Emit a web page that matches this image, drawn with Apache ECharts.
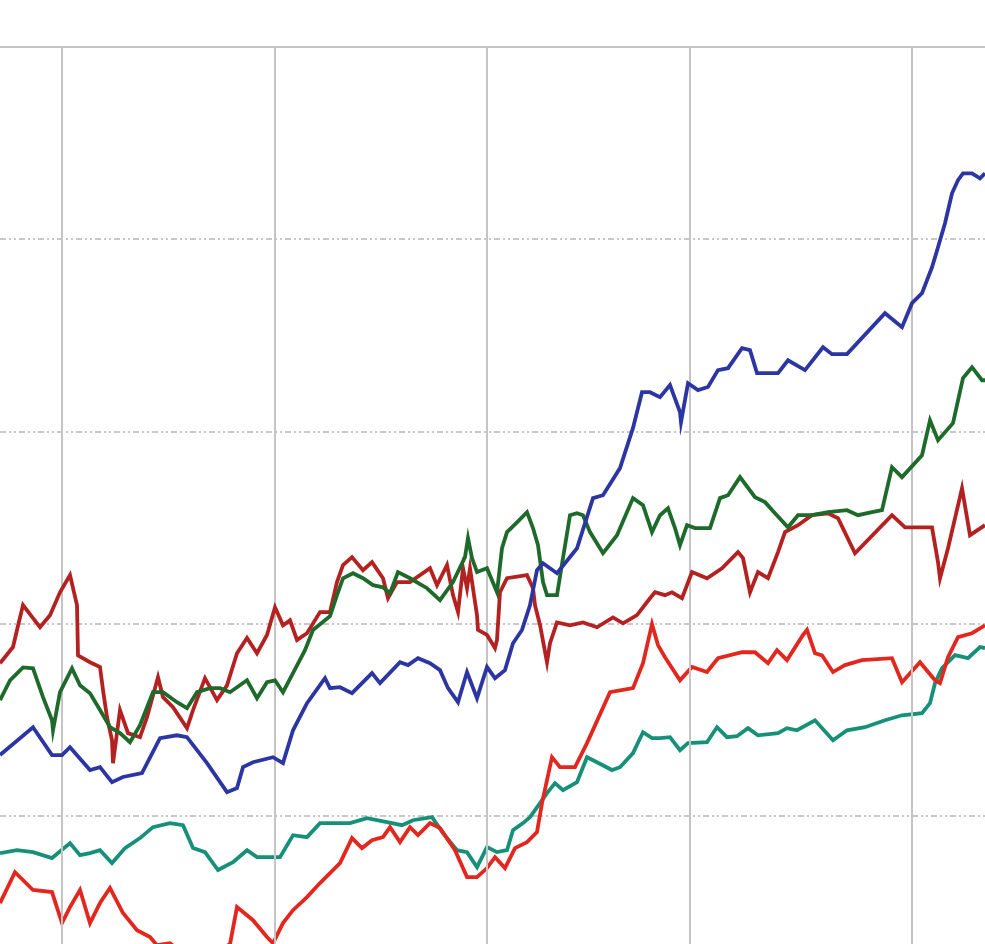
<!DOCTYPE html>
<html>
<head>
<meta charset="utf-8">
<script src="https://cdn.jsdelivr.net/npm/echarts@6/dist/echarts.min.js"></script>
<style>html,body{margin:0;padding:0;background:#fff;overflow:hidden}#c{width:985px;height:1008px}</style>
</head>
<body>
<div id="c"></div>
<script>
// x = trading-day index, y = index level
const gridDays = [30.85, 137.15, 243.35, 345, 455.85];
const yTicks = [90, 100, 110, 120, 130, 140];

const blue = [[0,103.16],[16.5,104.61],[26,103.16],[31,103.16],[35,103.57],[45,102.38],[50,102.53],[56,101.75],[61.5,102.02],[71,102.22],[80,104.04],[88.5,104.19],[93.5,104.09],[103.5,102.74],[113.5,101.23],[118.5,101.44],[121.5,102.53],[126.5,102.79],[136.5,103.05],[141.5,102.74],[146.5,104.45],[153.5,105.86],[162.5,107.16],[165,106.64],[170,106.69],[176,106.38],[186,107.42],[190,106.90],[200,107.99],[204,107.84],[209,108.20],[215,107.94],[220,107.58],[224,106.64],[229,105.91],[233.5,107.48],[238.5,106.12],[243.5,107.74],[247.5,107.16],[252.5,107.58],[256.5,108.98],[261,109.67],[265,110.96],[268.5,112.78],[271.5,113.14],[278.5,112.62],[288.5,113.92],[296.5,116.53],[301.5,116.68],[310,118.09],[316.5,120.18],[321,122.04],[325,122.04],[330,121.78],[335,122.41],[340,121.00],[340.5,120.48],[344,122.51],[349,122.15],[354,122.31],[359,123.19],[364,123.29],[371,124.33],[375,124.23],[378.5,123.03],[389,123.03],[394,123.70],[402.5,123.19],[411.5,124.38],[416,124.02],[423.5,124.02],[442.5,126.15],[451,125.42],[456,126.67],[461,127.19],[466,128.54],[469,129.58],[472.5,130.83],[476,132.39],[479,133.07],[481.5,133.43],[486,133.43],[490,133.17],[492.5,133.43]];

const green = [[0,106.02],[5,107.05],[11.5,107.72],[16.5,107.67],[21.5,106.17],[26,104.97],[26.5,104.45],[30,106.43],[36,107.67],[40,106.79],[45,106.38],[50,105.50],[55,104.61],[60,104.30],[65,103.83],[70,104.71],[76.5,106.43],[81.5,106.43],[88.5,105.91],[93.5,105.60],[98.5,106.43],[105,106.64],[110,106.64],[115,106.43],[123.5,107.05],[128.5,106.12],[133.5,106.95],[137.5,107.05],[141.5,106.43],[146.5,107.42],[152.5,108.62],[156.5,109.67],[165,110.39],[168.5,111.48],[171.5,112.36],[176.5,112.62],[181.5,112.36],[186.5,112.00],[191.5,111.89],[195,111.58],[199,112.68],[205,112.36],[213.5,111.84],[220,111.22],[226.5,112.16],[232.5,113.46],[234,114.45],[236,113.41],[238.5,112.68],[243.5,112.88],[248.5,111.63],[251,113.92],[253.5,114.76],[258.5,115.27],[263.5,115.80],[266.5,114.97],[269,114.08],[271.5,112.16],[273.5,111.48],[278.5,111.48],[281.5,113.41],[285,115.64],[288.5,115.74],[291.5,115.64],[295,114.76],[300,113.92],[301.5,113.66],[308.5,114.60],[316.5,116.53],[321.5,116.16],[326,114.76],[330,115.64],[334,116.00],[337.5,114.97],[340,114.08],[343.5,115.12],[347.5,114.97],[355,114.97],[360,116.53],[364,116.68],[370,117.62],[377.5,116.58],[382.5,116.32],[387.5,115.74],[394,115.01],[399,115.64],[406,115.64],[414,115.80],[423.5,115.90],[429,115.64],[436,115.80],[441,115.90],[446,118.14],[451,117.62],[461,118.76],[465,120.58],[469,119.54],[476.5,120.43],[481.5,122.77],[486,123.34],[491,122.66],[492.5,122.66]];

const darkRed = [[0,107.94],[6.5,108.78],[8.5,109.67],[11.5,110.96],[16.5,110.28],[20,109.81],[25,110.44],[30,111.63],[35,112.52],[38.5,110.96],[39,108.35],[45,107.99],[50,107.74],[51.5,106.54],[53.5,105.13],[56,103.93],[56.5,102.74],[60,105.50],[64,104.30],[70,104.09],[73.5,105.13],[79,107.21],[81.5,106.17],[86.5,105.65],[93.5,104.56],[96.5,105.50],[102.5,107.16],[108.5,106.02],[113.5,106.79],[118.5,108.46],[123.5,109.25],[128.5,108.46],[133.5,109.41],[137.5,110.85],[141.5,109.91],[145,110.17],[148.5,109.15],[153.5,109.50],[160,110.60],[165,110.60],[168.5,112.16],[171.5,113.04],[176,113.46],[181.5,112.78],[186,113.20],[191.5,112.36],[194,111.32],[198.5,112.16],[205,112.16],[215,112.88],[218.5,112.00],[223.5,113.04],[226.5,111.48],[229,110.60],[231.5,112.88],[233.5,111.84],[235,112.88],[238.5,110.44],[239,109.67],[243.5,109.41],[247.5,108.73],[248.5,109.15],[250,111.63],[253.5,112.36],[263.5,112.52],[266.5,111.84],[267.5,110.96],[270,109.93],[273.5,107.99],[275,108.98],[278.5,110.06],[285,109.91],[291.5,110.06],[298.5,109.81],[306.5,110.32],[311.5,110.01],[318.5,110.44],[325,111.32],[327.5,111.63],[332.5,111.48],[336,111.63],[341,111.32],[346,112.68],[353.5,112.36],[361,112.88],[369,113.72],[371.5,113.41],[375,111.63],[379,112.68],[384,112.36],[389,113.72],[392.5,114.76],[399,115.12],[406,115.64],[414,115.74],[419,115.48],[427.5,113.66],[446,115.64],[452.5,115.01],[466,115.01],[469,113.20],[470,112.36],[474,113.92],[481,117.04],[485,114.60],[492.5,115.12]];

const brightRed = [[0,95.46],[7.5,97.07],[16.5,96.14],[26,96.03],[31,94.42],[35,95.25],[40,96.14],[45,94.42],[50,95.46],[55,96.24],[61.5,94.94],[68.5,94.05],[75,93.69],[78.5,93.27],[85,93.37],[92.5,92.75],[100,92.75],[107.5,92.91],[115,93.32],[118.5,95.25],[126.5,94.57],[133.5,93.69],[136.5,93.37],[141.5,94.42],[146.5,95.09],[153.5,95.77],[160,96.50],[165,97.02],[170,97.54],[176,98.84],[181,98.32],[186,98.73],[191.5,98.89],[195,99.41],[200,98.63],[205,99.41],[209,99.00],[215,99.62],[220,99.36],[227.5,98.21],[233.5,96.81],[238.5,96.81],[243.5,97.28],[247.5,97.85],[252.5,97.28],[257.5,98.32],[263.5,98.63],[268.5,99.15],[271,100.66],[276,103.05],[280,102.53],[287.5,102.53],[293.5,103.78],[305,106.43],[316.5,106.64],[321.5,107.94],[326,109.97],[329,108.88],[332.5,108.25],[340,107.05],[346,107.74],[353.5,107.48],[359,108.20],[371,108.51],[377.5,108.51],[384,107.94],[388.5,108.62],[393.5,108.10],[401.5,109.41],[403.5,109.67],[407.5,108.46],[411,108.35],[416.5,107.48],[422.5,107.84],[431,108.10],[446,108.20],[451,106.95],[460,107.99],[467.5,107.05],[470,106.90],[474,108.25],[479,109.30],[486,109.50],[492.5,109.91]];

const teal = [[0,98.06],[8.5,98.21],[16.5,98.11],[26,97.80],[35,98.58],[40,97.95],[45,98.06],[50,98.21],[56,97.54],[62.5,98.32],[70,98.84],[76.5,99.41],[85,99.62],[91.5,99.51],[96.5,98.32],[102.5,98.11],[109,97.18],[116.5,97.59],[123.5,98.21],[128.5,97.85],[140,97.85],[146.5,98.99],[153.5,98.89],[160,99.62],[165,99.62],[175,99.62],[183.5,99.88],[193.5,99.67],[201,99.51],[206.5,99.77],[216,99.93],[221.5,99.10],[228.5,98.21],[233.5,98.11],[238.5,97.33],[243.5,98.37],[248.5,98.11],[253.5,98.21],[256.5,99.25],[261.5,99.62],[265,99.93],[270,100.66],[273.5,101.18],[277.5,101.70],[281.5,101.33],[288.5,101.75],[293.5,103.05],[298.5,102.79],[306,102.38],[310,102.53],[316.5,103.26],[321.5,104.35],[326,104.04],[330,104.04],[335,104.09],[340,103.41],[344,103.78],[353.5,103.83],[358.5,104.61],[363.5,104.09],[368.5,104.14],[374,104.56],[379,104.19],[389,104.30],[393.5,104.56],[398.5,104.45],[407.5,104.97],[416.5,103.93],[423.5,104.45],[432.5,104.61],[442.5,104.97],[451,105.23],[461,105.34],[465,105.86],[467.5,106.90],[471,107.68],[477.5,108.36],[484,108.20],[490,108.78],[492.5,108.73]];

const chart = echarts.init(document.getElementById('c'), null, {renderer: 'canvas'});
const mk = (name, data, color, z) => ({
  name, type: 'line', data, showSymbol: false, symbol: 'none',
  lineStyle: {color, width: 3.8, join: 'miter'}, itemStyle: {color}, z, silent: true
});
chart.setOption({
  animation: false,
  backgroundColor: '#ffffff',
  grid: {left: 0, right: 0, top: 47, bottom: 0, containLabel: false},
  xAxis: {
    type: 'value', min: 0, max: 492.5, position: 'top',
    axisLine: {show: true, lineStyle: {color: '#c4c4c4', width: 2}},
    axisTick: {show: false}, axisLabel: {show: false}, splitLine: {show: false}
  },
  yAxis: {
    type: 'value', min: yTicks[0], max: yTicks[yTicks.length - 1], interval: 10,
    axisLine: {show: false}, axisTick: {show: false}, axisLabel: {show: false},
    splitLine: {show: true, lineStyle: {color: '#c8c8c8', width: 2, type: [6, 3, 2, 3, 2, 3]}}
  },
  series: [
    {
      type: 'line', data: [], z: 1, silent: true,
      markLine: {
        silent: true, symbol: 'none', animation: false,
        label: {show: false},
        lineStyle: {color: '#c4c4c4', width: 2, type: 'solid'},
        data: gridDays.map(d => ({xAxis: d}))
      }
    },
    mk('teal', teal, '#17907a', 3),
    mk('brightRed', brightRed, '#e2281e', 4),
    mk('darkRed', darkRed, '#b32221', 5),
    mk('green', green, '#1d6a2b', 6),
    mk('blue', blue, '#2c36a2', 7)
  ]
});
</script>
</body>
</html>
